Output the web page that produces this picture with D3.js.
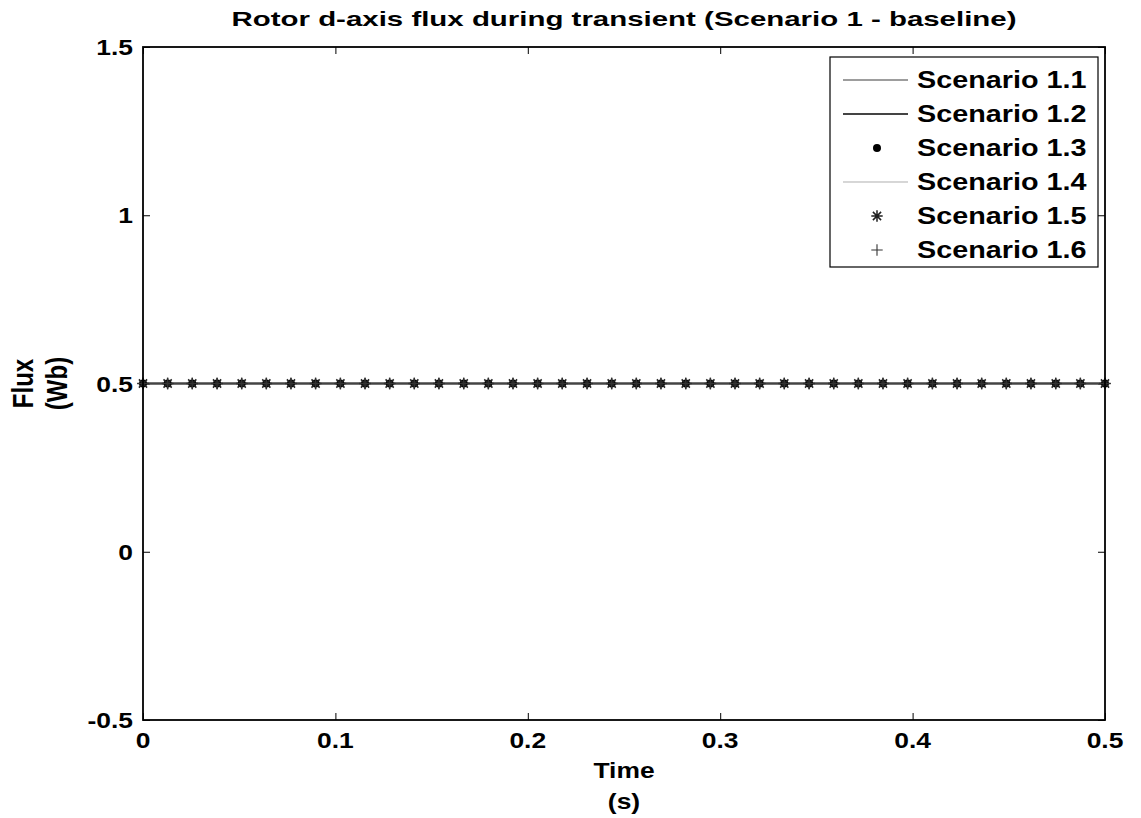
<!DOCTYPE html>
<html><head><meta charset="utf-8">
<script src="https://cdn.jsdelivr.net/npm/d3@7"></script>
<style>
body{margin:0;background:#fff}
text{font-family:"Liberation Sans",Arial,Helvetica,sans-serif;font-weight:bold;fill:#000}
</style></head>
<body><svg id="c" width="1141" height="818"></svg>
<script>
// ---- data ----
const titleText = "Rotor d-axis flux during transient (Scenario 1 - baseline)";
const xLabelLines = ["Time", "(s)"];
const yLabelLines = ["Flux", "(Wb)"];
const xTicks = [0, 0.1, 0.2, 0.3, 0.4, 0.5];
const xTickLabels = ["0", "0.1", "0.2", "0.3", "0.4", "0.5"];
const yTicks = [-0.5, 0, 0.5, 1, 1.5];
const yTickLabels = ["-0.5", "0", "0.5", "1", "1.5"];
const timeS = [0, 0.0128, 0.0256, 0.0385, 0.0513, 0.0641, 0.0769, 0.0897, 0.1026, 0.1154,
  0.1282, 0.1410, 0.1538, 0.1667, 0.1795, 0.1923, 0.2051, 0.2179, 0.2308, 0.2436,
  0.2564, 0.2692, 0.2821, 0.2949, 0.3077, 0.3205, 0.3333, 0.3462, 0.3590, 0.3718,
  0.3846, 0.3974, 0.4103, 0.4231, 0.4359, 0.4487, 0.4615, 0.4744, 0.4872, 0.5];
const fluxBaseline = [0.5, 0.5, 0.5, 0.5, 0.5, 0.5, 0.5, 0.5, 0.5, 0.5,
  0.5, 0.5, 0.5, 0.5, 0.5, 0.5, 0.5, 0.5, 0.5, 0.5,
  0.5, 0.5, 0.5, 0.5, 0.5, 0.5, 0.5, 0.5, 0.5, 0.5,
  0.5, 0.5, 0.5, 0.5, 0.5, 0.5, 0.5, 0.5, 0.5, 0.5];
const seriesNames = ["Scenario 1.1", "Scenario 1.2", "Scenario 1.3", "Scenario 1.4", "Scenario 1.5", "Scenario 1.6"];
const seriesValues = [fluxBaseline, fluxBaseline, fluxBaseline, fluxBaseline, fluxBaseline, fluxBaseline];

// ---- styles ----
const styles = [
  {line:true, stroke:"#333", width:1.2, marker:null},
  {line:true, stroke:"#444", width:2.4, marker:null},
  {line:false, marker:"dot", stroke:"#000"},
  {line:true, stroke:"#aaa", width:1.2, marker:null},
  {line:false, marker:"star", stroke:"#222"},
  {line:false, marker:"plus", stroke:"#333"}
];
const lineDrawOrder = [3, 0, 1];

const svg = d3.select("#c");
const L = 143, R = 1105, T = 47, B = 720;
const x = d3.scaleLinear().domain([0, 0.5]).range([L, R]);
const y = d3.scaleLinear().domain([-0.5, 1.5]).range([B, T]);
const K = 1.2;
function stretch(sel, k){
  sel.each(function(){
    const w = this.getComputedTextLength();
    d3.select(this).attr("textLength", w*k).attr("lengthAdjust","spacingAndGlyphs");
  });
}

// custom symbols
const plusSym = {draw(ctx, size){const s=Math.sqrt(size)/2; ctx.moveTo(-s,0); ctx.lineTo(s,0); ctx.moveTo(0,-s); ctx.lineTo(0,s);}};
const starSym = {draw(ctx, size){const s=Math.sqrt(size)/2; const d=s*0.72;
  ctx.moveTo(-s,0); ctx.lineTo(s,0); ctx.moveTo(0,-s); ctx.lineTo(0,s);
  ctx.moveTo(-d,-d); ctx.lineTo(d,d); ctx.moveTo(-d,d); ctx.lineTo(d,-d);}};
function markerPath(kind){
  if(kind==="dot") return d3.symbol(d3.symbolCircle, 50)();
  if(kind==="star") return d3.symbol(starSym, 130)();
  return d3.symbol(plusSym, 130)();
}
function drawMarker(g, kind, st){
  const p = g.append("path").attr("d", markerPath(kind));
  if(kind==="dot") p.attr("fill", st.stroke).attr("stroke","none");
  else p.attr("fill","none").attr("stroke", st.stroke).attr("stroke-width", kind==="star"?1.5:1.1);
}

// axes box with inward ticks
const axisG = svg.append("g");
function clean(g){ g.select(".domain").remove(); g.selectAll("line").attr("stroke","#000"); }
axisG.append("g").attr("transform",`translate(0,${B})`)
  .call(d3.axisBottom(x).tickValues(xTicks).tickSize(-7).tickFormat(()=>"")).call(clean);
axisG.append("g").attr("transform",`translate(0,${T})`)
  .call(d3.axisTop(x).tickValues(xTicks).tickSize(-7).tickFormat(()=>"")).call(clean);
axisG.append("g").attr("transform",`translate(${L},0)`)
  .call(d3.axisLeft(y).tickValues(yTicks).tickSize(-7).tickFormat(()=>"")).call(clean);
axisG.append("g").attr("transform",`translate(${R},0)`)
  .call(d3.axisRight(y).tickValues(yTicks).tickSize(-7).tickFormat(()=>"")).call(clean);

// tick labels
svg.append("g").selectAll("text").data(xTicks).join("text")
  .attr("x", d=>x(d)).attr("y", B+28).attr("text-anchor","middle")
  .attr("font-size",22).text((d,i)=>xTickLabels[i]).call(stretch, K);
svg.append("g").selectAll("text").data(yTicks).join("text")
  .attr("x", L-10).attr("y", d=>y(d)+8).attr("text-anchor","end")
  .attr("font-size",22).text((d,i)=>yTickLabels[i]).call(stretch, K);

// data series
const lineGen = d3.line().x((d,i)=>x(timeS[i])).y(d=>y(d));
const plotG = svg.append("g");
lineDrawOrder.forEach(si=>{
  const st = styles[si];
  plotG.append("path").datum(seriesValues[si]).attr("d", lineGen).attr("fill","none")
    .attr("stroke", st.stroke).attr("stroke-width", st.width);
});
seriesValues.forEach((vals, si)=>{
  const st = styles[si];
  if(st.marker){
    vals.forEach((v,i)=>{
      const g = plotG.append("g").attr("transform",`translate(${x(timeS[i])},${y(v)})`);
      drawMarker(g, st.marker, st);
    });
  }
});

// box
svg.append("rect").attr("x",L).attr("y",T).attr("width",R-L).attr("height",B-T)
  .attr("fill","none").attr("stroke","#000").attr("stroke-width",1.8);

// title
svg.append("text").attr("x",(L+R)/2).attr("y",26).attr("text-anchor","middle")
  .attr("font-size",21).text(titleText)
  .each(function(){d3.select(this).attr("textLength",785).attr("lengthAdjust","spacingAndGlyphs");});

// x label
svg.append("text").attr("x",(L+R)/2).attr("y",778).attr("text-anchor","middle")
  .attr("font-size",22).text(xLabelLines[0]).call(stretch, K);
svg.append("text").attr("x",(L+R)/2).attr("y",809).attr("text-anchor","middle")
  .attr("font-size",22).text(xLabelLines[1]).call(stretch, K);

// y label (two lines, rotated)
const yMid = (T+B)/2;
svg.append("text").attr("transform",`translate(33,${yMid}) scale(${K},1) rotate(-90)`)
  .attr("text-anchor","middle").attr("font-size",24).text(yLabelLines[0]);
svg.append("text").attr("transform",`translate(67,${yMid}) scale(${K},1) rotate(-90)`)
  .attr("text-anchor","middle").attr("font-size",24).text(yLabelLines[1]);

// legend
const LX = 830, LY = 57, LW = 268, LH = 210, rowY0 = 80, rowDY = 34;
const leg = svg.append("g");
leg.append("rect").attr("x",LX).attr("y",LY).attr("width",LW).attr("height",LH)
  .attr("fill","#fff").attr("stroke","#000").attr("stroke-width",1.2);
seriesNames.forEach((name, si)=>{
  const st = styles[si];
  const cy = rowY0 + si*rowDY;
  if(st.line){
    leg.append("line").attr("x1",843).attr("x2",908).attr("y1",cy).attr("y2",cy)
      .attr("stroke",st.stroke).attr("stroke-width",st.width*0.8);
  }
  if(st.marker){
    const g = leg.append("g").attr("transform",`translate(877,${cy})`);
    drawMarker(g, st.marker, st);
  }
  leg.append("text").attr("x",917).attr("y",cy+8).attr("font-size",23)
    .text(name).call(stretch, 1.25);
});
</script></body></html>
